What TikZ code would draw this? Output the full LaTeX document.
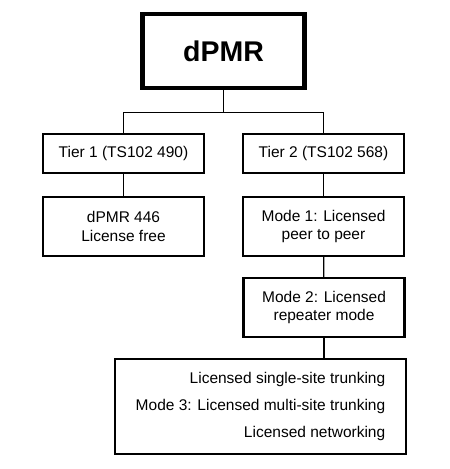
\documentclass[tikz,border=0pt]{standalone}
\usepackage{fontspec}
\setmainfont{Liberation Sans}
\usepackage{tikz}

\begin{document}
\begin{tikzpicture}[
  x=1pt, y=1pt,
  box/.style={rectangle, draw, line width=2.3pt, minimum width=161pt, minimum height=39pt,
    align=center, font=\fontsize{15.5}{18.5}\selectfont, inner sep=2pt},
  tallbox/.style={box, minimum height=59pt},
  topbox/.style={rectangle, draw, line width=4.5pt, minimum width=162pt, minimum height=74pt,
    font=\fontsize{28.5}{30}\selectfont\bfseries},
  link/.style={line width=1.2pt}
]

\useasboundingbox (0,0) rectangle (450,469);

\node[topbox] (dpmr) at (223.5, 418) {dPMR};

\node[box] (tierone) at (123.5, 315.5) {Tier 1 (TS102 490)};
\node[box] (tiertwo) at (323.5, 315.5) {Tier 2 (TS102 568)};

\node[tallbox] (free) at (123.5, 242.5) {dPMR 446\\License free};
\node[tallbox] (modeone) at (323.5, 242.5) {Mode 1: Licensed\\peer to peer};
\node[tallbox] (modetwo) at (324, 161.5) {Mode 2: Licensed\\repeater mode};
\node[box, minimum width=291pt, minimum height=95pt, align=right,
  font=\fontsize{15.5}{27}\selectfont] (modethree) at (260.5, 62.5)
  {Licensed single-site trunking\\Mode 3: Licensed multi-site trunking\\Licensed networking};

\draw[link] (dpmr.south) -- ++(0,-22) -| (tierone.north);
\draw[link] (dpmr.south) -- ++(0,-22) -| (tiertwo.north);
\draw[link] (tierone) -- (free);
\draw[link] (tiertwo) -- (modeone);
\draw[link] (modeone) -- (modetwo);
\draw[link] (modetwo.south) -- (modetwo.south |- modethree.north);

\end{tikzpicture}
\end{document}
